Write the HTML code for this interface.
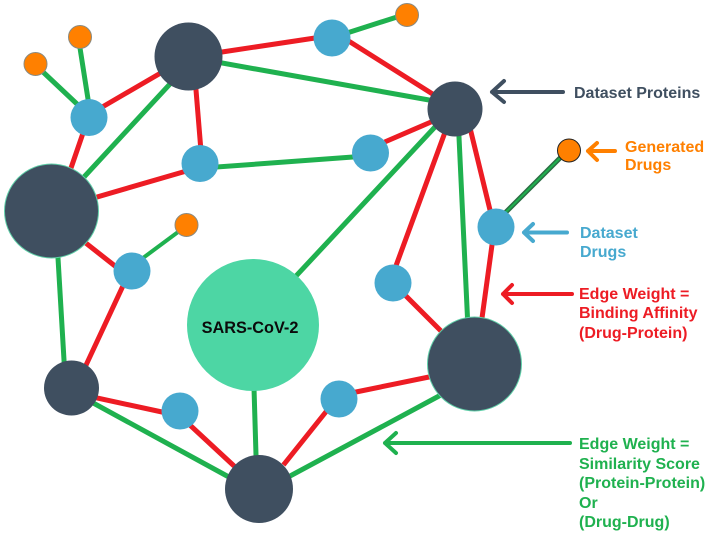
<!DOCTYPE html>
<html><head><meta charset="utf-8"><style>
html,body{margin:0;padding:0;background:#fff;width:708px;height:535px;overflow:hidden}
svg{display:block}
text{font-family:"Liberation Sans",Arial,sans-serif;font-weight:bold;font-size:16px}
</style></head><body>
<svg width="708" height="535" viewBox="0 0 708 535">
<g fill="none" stroke-width="5" stroke-linecap="square">
<g stroke="#1fb14f">
<path d="M43 72L77 104M80 48L88 99M169 85L84 177M222 63L429 100M217 167L353 157M347 33L397 17"/>
<path d="M178 232L143 258" stroke-width="4"/>
<path d="M58 258L64 360M95 404L227 476M254 388L256 455M292 475L439 396M297 275L434 128M459 137L467.500 318"/>
</g>
<g stroke="#ed1c24">
<path d="M104 106L159 74M82 136L71 168M196 90L200.500 145M222 52L315 38M347 40L431 93M97 197L183 172M387 141L431 122M87 244L115 266M122 288L87 363M97 398L162 412M192 427L233 465M285 463L325 413M356 392L429 377M407 297L440 330M397 263L444 135M471 132L490 210M492 245L482 318"/>
</g>
<path d="M506 212L561 157" stroke="#2b6e44" stroke-width="5"/>
<path d="M506 212L561 157" stroke="#1fb14f" stroke-width="2"/>
</g>
<g fill="#ff8000" stroke="#8a8a80" stroke-width="1">
<circle cx="80" cy="37" r="11.500"/><circle cx="35.500" cy="64" r="11.500"/><circle cx="407" cy="15" r="11.500"/><circle cx="186.500" cy="225" r="11.500"/>
<circle cx="569" cy="150.500" r="11.500" stroke="#222"/>
</g>
<g fill="#47a9cf">
<circle cx="89" cy="117.500" r="18.500"/><circle cx="200" cy="163.500" r="18.500"/><circle cx="332" cy="38" r="18.500"/><circle cx="370.500" cy="153" r="18.500"/><circle cx="496" cy="227" r="18.500"/><circle cx="132" cy="271" r="18.500"/><circle cx="393" cy="283" r="18.500"/><circle cx="180" cy="411" r="18.500"/><circle cx="339" cy="399" r="18.500"/>
</g>
<circle cx="253" cy="325" r="66" fill="#4dd6a4"/>
<g fill="#3f4f60">
<circle cx="188.500" cy="56.500" r="34"/><circle cx="455" cy="109" r="27.500"/><circle cx="71.500" cy="388" r="27.500"/><circle cx="259" cy="489" r="34"/>
<circle cx="51.500" cy="211" r="47" stroke="#5fcfa8" stroke-width="1"/><circle cx="474.500" cy="364" r="47" stroke="#5fcfa8" stroke-width="1"/>
</g>
<text x="250" y="333" text-anchor="middle" fill="#0b0b0b" style="font-size:16.300px">SARS-CoV-2</text>
<g fill="none" stroke-width="4" stroke-linecap="round" stroke-linejoin="round">
<path d="M563 92H492M504 81L492 92L504 102" stroke="#3f4f60"/>
<path d="M615 151H588M597 143L588 151L597 160" stroke="#ff8000"/>
<path d="M567 232.500H524M533 224L524 232.500L533 241" stroke="#47a9cf"/>
<path d="M572 294H503M512 285L503 294L512 303" stroke="#ed1c24"/>
<path d="M570 443H385M396 433L385 443L396 453" stroke="#1fb14f"/>
</g>
<text x="574" y="98" fill="#3f4f60">Dataset Proteins</text>
<g fill="#ff8000"><text x="625" y="152">Generated</text><text x="625" y="170">Drugs</text></g>
<g fill="#47a9cf"><text x="580" y="238">Dataset</text><text x="580" y="257">Drugs</text></g>
<g fill="#ed1c24"><text x="579" y="299">Edge Weight =</text><text x="579" y="318">Binding Affinity</text><text x="579" y="338">(Drug-Protein)</text></g>
<g fill="#1fb14f"><text x="579" y="449">Edge Weight =</text><text x="579" y="469">Similarity Score</text><text x="579" y="488">(Protein-Protein)</text><text x="579" y="508">Or</text><text x="579" y="527">(Drug-Drug)</text></g>
</svg>
</body></html>
